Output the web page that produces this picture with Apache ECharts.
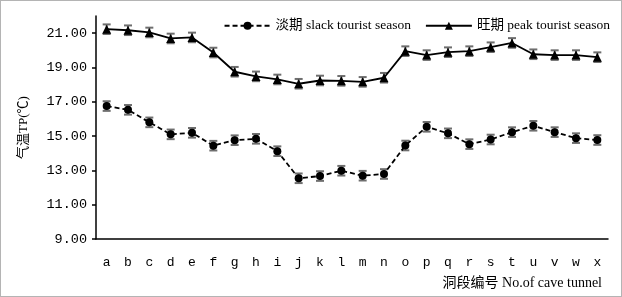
<!DOCTYPE html>
<html>
<head>
<meta charset="utf-8">
<script src="https://cdn.jsdelivr.net/npm/echarts@6/dist/echarts.min.js"></script>
<style>
html, body { margin: 0; padding: 0; background: #fff; }
#chart { width: 620px; height: 295px; border: 1px solid #b4b4b4; }
</style>
</head>
<body>
<div id="chart"></div>
<script>
// 洞段编号
var categories = ['a','b','c','d','e','f','g','h','i','j','k','l','m','n','o','p','q','r','s','t','u','v','w','x'];
// 淡期 slack tourist season
var slackValues = [16.75, 16.53, 15.80, 15.10, 15.19, 14.44, 14.76, 14.84, 14.12, 12.54, 12.67, 12.98,
	12.69, 12.79, 14.45, 15.54, 15.16, 14.53, 14.80, 15.23, 15.60, 15.23, 14.88, 14.77];
// 旺期 peak tourist season
var peakValues = [21.23, 21.17, 21.04, 20.69, 20.75, 19.87, 18.75, 18.48, 18.30, 18.05, 18.24, 18.22,
	18.16, 18.40, 19.95, 19.72, 19.89, 19.95, 20.18, 20.43, 19.77, 19.72, 19.72, 19.60];
// 误差
var slackErrors = [0.28, 0.28, 0.28, 0.28, 0.28, 0.28, 0.28, 0.28, 0.28, 0.28, 0.28, 0.28,
	0.28, 0.28, 0.28, 0.28, 0.28, 0.28, 0.28, 0.28, 0.28, 0.28, 0.28, 0.28];
var peakErrors = [0.28, 0.28, 0.28, 0.28, 0.28, 0.28, 0.28, 0.28, 0.28, 0.28, 0.28, 0.28,
	0.28, 0.28, 0.28, 0.28, 0.28, 0.28, 0.28, 0.28, 0.28, 0.28, 0.28, 0.28];
var yTicks = [9, 11, 13, 15, 17, 19, 21];

var serifFont = '"Liberation Serif", "Noto Sans CJK SC", serif';
var monoFont = '"Liberation Mono", monospace';

// 误差线数据 [x, 下限, 上限]
function errorData(values, errors) {
	var out = [];
	for (var i = 0; i < values.length; i++) {
		out.push([i, values[i] - errors[i], values[i] + errors[i]]);
	}
	return out;
}

function renderError(params, api) {
	var x = api.value(0);
	var lo = api.coord([x, api.value(1)]);
	var hi = api.coord([x, api.value(2)]);
	var w = 4;
	var st = { stroke: '#6e6e6e', lineWidth: 2 };
	return {
		type: 'group',
		children: [
			{ type: 'line', shape: { x1: lo[0], y1: lo[1], x2: hi[0], y2: hi[1] }, style: st },
			{ type: 'line', shape: { x1: lo[0] - w, y1: lo[1], x2: lo[0] + w, y2: lo[1] }, style: st },
			{ type: 'line', shape: { x1: hi[0] - w, y1: hi[1], x2: hi[0] + w, y2: hi[1] }, style: st }
		]
	};
}

var myChart = echarts.init(document.getElementById('chart'));
var option = {
	animation: false,
	grid: { left: 95, right: 13, top: 15, bottom: 57 },
	legend: {
		top: 13,
		right: 6,
		itemWidth: 46,
		itemHeight: 10,
		itemGap: 14,
		data: ['淡期 slack tourist season', '旺期 peak tourist season'],
		textStyle: { fontFamily: serifFont, fontSize: 13.5, color: '#000' }
	},
	xAxis: {
		type: 'category',
		data: categories,
		boundaryGap: true,
		name: '洞段编号 No.of cave tunnel',
		nameLocation: 'end',
		nameGap: 0,
		nameTextStyle: {
			fontFamily: serifFont, fontSize: 14, color: '#000',
			align: 'right', verticalAlign: 'top', padding: [37, 6, 0, 0]
		},
		axisLine: { lineStyle: { color: '#000', width: 1.5 } },
		axisTick: { inside: true, length: 4, lineStyle: { color: '#000', width: 1.5 } },
		axisLabel: { fontFamily: monoFont, fontSize: 13, color: '#000', margin: 17 }
	},
	yAxis: {
		type: 'value',
		min: 9,
		max: 22,
		interval: 2,
		name: '气温TP(℃)',
		nameLocation: 'middle',
		nameGap: 66,
		nameRotate: 90,
		nameTextStyle: { fontFamily: serifFont, fontSize: 13, color: '#000' },
		axisLine: { show: true, lineStyle: { color: '#000', width: 1.5 } },
		axisTick: { show: true, length: 4, lineStyle: { color: '#000', width: 1.5 } },
		splitLine: { show: false },
		axisLabel: {
			fontFamily: monoFont, fontSize: 13.5, color: '#000', margin: 9,
			showMaxLabel: false,
			formatter: function(v) { return yTicks.indexOf(v) >= 0 ? v.toFixed(2) : ''; }
		}
	},
	series: [{
		type: 'custom',
		renderItem: renderError,
		data: errorData(slackValues, slackErrors),
		z: 1,
		silent: true
	}, {
		type: 'custom',
		renderItem: renderError,
		data: errorData(peakValues, peakErrors),
		z: 1,
		silent: true
	}, {
		name: '淡期 slack tourist season',
		type: 'line',
		data: slackValues,
		symbol: 'circle',
		symbolSize: 8,
		z: 3,
		itemStyle: { color: '#000' },
		lineStyle: { color: '#000', width: 1.8, type: [5, 3] }
	}, {
		name: '旺期 peak tourist season',
		type: 'line',
		data: peakValues,
		symbol: 'triangle',
		symbolSize: 9,
		z: 3,
		itemStyle: { color: '#000' },
		lineStyle: { color: '#000', width: 1.8 }
	}]
};
myChart.setOption(option);
</script>
</body>
</html>
